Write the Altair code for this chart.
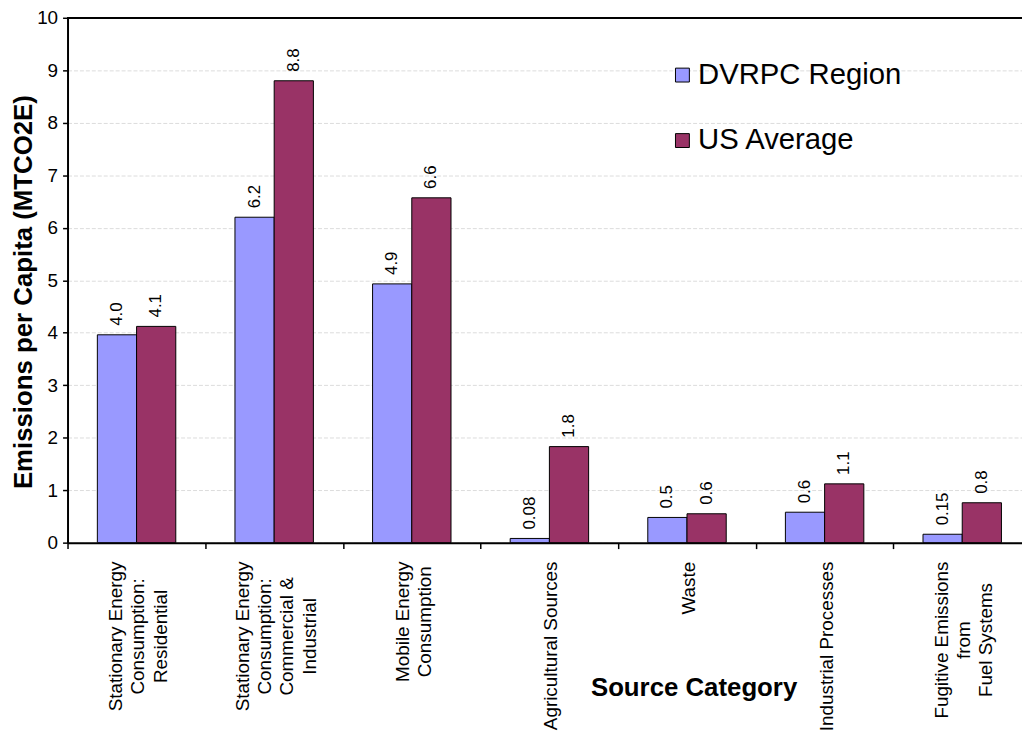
import altair as alt
import pandas as pd

categories = [
    "Stationary Energy|Consumption:|Residential",
    "Stationary Energy|Consumption:|Commercial &|Industrial",
    "Mobile Energy|Consumption",
    "Agricultural Sources",
    "Waste",
    "Industrial Processes",
    "Fugitive Emissions|from|Fuel Systems",
]
series = ["DVRPC Region", "US Average"]
dvrpc = [3.96, 6.2, 4.93, 0.08, 0.48, 0.58, 0.16]
us_avg = [4.12, 8.8, 6.57, 1.83, 0.55, 1.12, 0.76]
dvrpc_labels = ["4.0", "6.2", "4.9", "0.08", "0.5", "0.6", "0.15"]
us_labels = ["4.1", "8.8", "6.6", "1.8", "0.6", "1.1", "0.8"]
colors = ["#9999FF", "#993366"]

FONT = "Liberation Sans"
W, H = 962, 529
LABEL_FS = 19
LINE_H = 22.5
P_IN, P_OUT, ALIGN = 0.43, 0.183, 0.592
STEP = W / (len(categories) - P_IN + 2 * P_OUT)
BW = STEP * (1 - P_IN)

# Arial / Liberation Sans advance widths (per 1000 em) for measuring label lines
_AW = {" ": 278, ":": 278, "&": 667, "S": 667, "E": 667, "C": 722, "I": 278,
       "M": 833, "F": 611, "W": 944, "A": 667, "P": 667,
       "a": 556, "b": 556, "c": 500, "d": 556, "e": 556, "f": 278, "g": 556,
       "i": 222, "l": 222, "m": 833, "n": 556, "o": 556, "p": 556, "r": 333,
       "s": 500, "t": 278, "u": 556, "v": 500, "y": 500}


def text_width(s, size):
    return sum(_AW.get(ch, 556) for ch in s) * size / 1000.0


rows = []
for c, v, lab in zip(categories, dvrpc, dvrpc_labels):
    rows.append({"category": c, "series": series[0], "value": v, "label": lab})
for c, v, lab in zip(categories, us_avg, us_labels):
    rows.append({"category": c, "series": series[1], "value": v, "label": lab})
df = pd.DataFrame(rows)

lab_rows = []
for c in categories:
    lines = c.split("|")
    longest = max(text_width(line, LABEL_FS) for line in lines)
    lab_rows.append({"category": c,
                     "ypix": H + 19 + longest / 2.0,
                     "xoff": BW / 2.0 - (len(lines) - 1) * LINE_H / 2.0 + 2})
df_lab = pd.DataFrame(lab_rows)

xscale = alt.Scale(domain=categories, paddingInner=P_IN, paddingOuter=P_OUT, align=ALIGN)

base = alt.Chart(df)

bars = base.mark_bar(stroke="black", strokeWidth=1).encode(
    x=alt.X("category:N", scale=xscale, sort=categories,
            axis=alt.Axis(labels=False, tickOffset=-STEP / 2.0, tickSize=6, tickWidth=1.5,
                          tickColor="black", domainColor="black", domainWidth=2,
                          title="Source Category", titleFont=FONT, titleFontSize=26,
                          titleFontWeight="bold", titleColor="black",
                          titleX=631, titleY=146, titleAlign="center",
                          titleBaseline="middle", titleAngle=0)),
    xOffset=alt.XOffset("series:N", sort=series),
    y=alt.Y("value:Q", scale=alt.Scale(domain=[0, 10], nice=False),
            axis=alt.Axis(values=list(range(0, 11)), grid=True, gridColor="#dcdcdc",
                          gridDash=[4, 2], gridWidth=1, tickSize=5, tickColor="black",
                          tickWidth=1.5, domainColor="black", domainWidth=2,
                          labelFont=FONT, labelFontSize=19, labelColor="black",
                          labelPadding=5,
                          title="Emissions per Capita (MTCO2E)", titleFont=FONT,
                          titleFontSize=26, titleFontWeight="bold", titleColor="black",
                          titleAngle=270, titleAlign="center", titleBaseline="middle",
                          titleX=-44, titleY=276)),
    color=alt.Color("series:N", scale=alt.Scale(domain=series, range=colors),
                    legend=alt.Legend(title=None, orient="none", legendX=605, legendY=43,
                                      symbolType="square", symbolSize=196,
                                      symbolStrokeColor="black", symbolStrokeWidth=1,
                                      labelFont=FONT, labelFontSize=29.5, labelColor="black",
                                      labelOffset=1, rowPadding=35, padding=0,
                                      symbolOffset=0, labelLimit=400)),
)

values = base.mark_text(angle=270, align="left", baseline="middle", dx=9,
                        font=FONT, fontSize=17, color="black").encode(
    x=alt.X("category:N", scale=xscale, sort=categories),
    xOffset=alt.XOffset("series:N", sort=series),
    y=alt.Y("value:Q"),
    text="label:N",
)

xlabels = alt.Chart(df_lab).mark_text(angle=270, align="center", baseline="middle",
                                      lineBreak="|", lineHeight=LINE_H, font=FONT,
                                      fontSize=LABEL_FS, color="black").encode(
    x=alt.X("category:N", scale=xscale, sort=categories),
    xOffset=alt.XOffset("xoff:Q", scale=None),
    y=alt.Y("ypix:Q", scale=None),
    text="category:N",
)

top_border = alt.Chart(df_lab).mark_rule(color="black", strokeWidth=1.5).encode(
    x=alt.value(0), x2=alt.value(W), y=alt.value(0)
)

chart = alt.layer(bars, values, xlabels, top_border).properties(
    width=W, height=H,
    autosize=alt.AutoSizeParams(type="none"),
    padding={"left": 60, "top": 7, "right": 0, "bottom": 190},
).configure_view(stroke=None).configure(font=FONT)

chart.save("out.html", embed_options={"renderer": "svg", "actions": False})
